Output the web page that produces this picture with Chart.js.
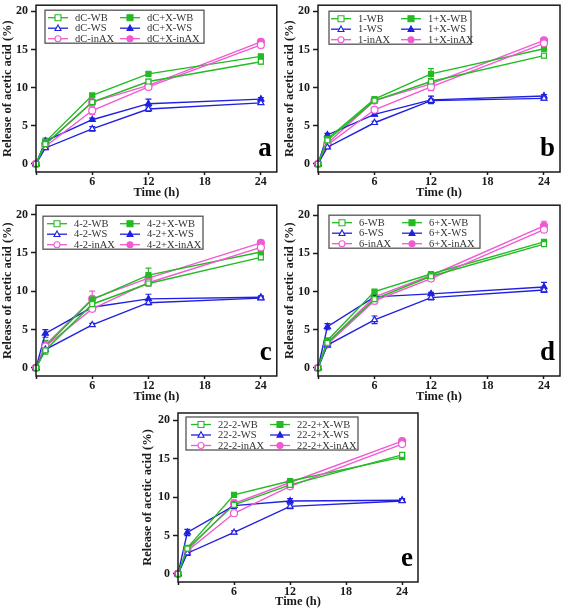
<!DOCTYPE html>
<html>
<head>
<meta charset="utf-8">
<script src="https://cdn.jsdelivr.net/npm/chart.js@4.4.1/dist/chart.umd.min.js"></script>
<style>
  body { margin: 0; background: #fff; }
  #wrap { position: relative; width: 567px; height: 611px; }
  canvas { position: absolute; }
</style>
</head>
<body>
<div id="wrap">
  <canvas id="pa" width="282" height="200" style="left:0;top:0"></canvas>
  <canvas id="pb" width="285" height="200" style="left:282px;top:0"></canvas>
  <canvas id="pc" width="282" height="204" style="left:0;top:200px"></canvas>
  <canvas id="pd" width="285" height="204" style="left:282px;top:200px"></canvas>
  <canvas id="pe" width="285" height="205" style="left:140px;top:404px"></canvas>
</div>
<script>
// ---- data ----
const times = [0, 1, 6, 12, 24];
const xTicks = [0, 6, 12, 18, 24];
const yTicks = [0, 5, 10, 15, 20];
const suffixes = ['-WB', '-WS', '-inAX', '+X-WB', '+X-WS', '+X-inAX'];

// panel a (dC)
const aWB    = [0, 2.6, 8.1, 10.8, 13.4];
const aWS    = [0, 2.1, 4.6, 7.2, 8.0];
const aInAX  = [0, 2.3, 7.0, 10.1, 15.6];
const aXWB   = [0, 2.9, 9.0, 11.8, 14.1];
const aXWS   = [0, 3.0, 5.8, 7.9, 8.5];
const aXInAX = [0, 2.6, 8.1, 10.3, 16.0];
const aErr = [[0, 0.5, 0.3, 0.3, 0.3], [0, 0.2, 0.3, 0.3, 0.2], [0, 0.3, 0.5, 0.3, 0.4],
              [0, 0.5, 0.2, 0.2, 0.2], [0, 0.2, 0.2, 0.6, 0.2], [0, 0.3, 0.3, 0.2, 0.2]];

// panel b (1)
const bWB    = [0, 3.1, 8.3, 10.8, 14.2];
const bWS    = [0, 2.2, 5.4, 8.3, 8.6];
const bInAX  = [0, 2.5, 7.1, 10.1, 15.8];
const bXWB   = [0, 3.3, 8.5, 11.8, 15.1];
const bXWS   = [0, 3.8, 6.5, 8.4, 8.9];
const bXInAX = [0, 2.7, 8.3, 10.5, 16.2];
const bErr = [[0, 0.3, 0.2, 0.4, 0.2], [0, 0.2, 0.2, 0.2, 0.2], [0, 0.3, 0.3, 0.5, 0.3],
              [0, 0.3, 0.2, 0.7, 0.3], [0, 0.2, 0.2, 0.5, 0.2], [0, 0.3, 0.2, 0.3, 0.2]];

// panel c (4-2)
const cWB    = [0, 2.3, 8.3, 11.0, 14.4];
const cWS    = [0, 2.4, 5.6, 8.5, 9.1];
const cInAX  = [0, 2.8, 7.7, 11.1, 15.7];
const cXWB   = [0, 2.8, 8.9, 12.1, 15.1];
const cXWS   = [0, 4.5, 7.9, 9.0, 9.2];
const cXInAX = [0, 3.0, 9.0, 11.7, 16.3];
const cErr = [[0, 0.5, 0.3, 0.3, 0.3], [0, 0.3, 0.2, 0.3, 0.2], [0, 0.4, 0.3, 0.3, 0.3],
              [0, 0.8, 0.3, 0.9, 0.3], [0, 0.5, 0.3, 0.6, 0.2], [0, 0.4, 1.0, 0.4, 0.3]];

// panel d (6)
const dWB    = [0, 3.3, 9.0, 12.0, 16.2];
const dWS    = [0, 3.0, 6.3, 9.2, 10.2];
const dInAX  = [0, 3.1, 8.8, 11.7, 18.1];
const dXWB   = [0, 3.6, 10.0, 12.3, 16.5];
const dXWS   = [0, 5.4, 9.3, 9.7, 10.6];
const dXInAX = [0, 3.3, 9.3, 12.1, 18.6];
const dErr = [[0, 0.3, 0.3, 0.3, 0.3], [0, 0.3, 0.5, 0.3, 0.3], [0, 0.3, 0.4, 0.3, 0.3],
              [0, 0.3, 0.2, 0.2, 0.3], [0, 0.4, 0.2, 0.2, 0.6], [0, 0.3, 0.3, 0.3, 0.6]];

// panel e (22-2)
const eWB    = [0, 3.3, 9.0, 11.6, 15.5];
const eWS    = [0, 2.7, 5.4, 8.8, 9.5];
const eInAX  = [0, 3.0, 7.9, 11.4, 16.9];
const eXWB   = [0, 3.4, 10.3, 12.1, 15.2];
const eXWS   = [0, 5.4, 8.9, 9.5, 9.6];
const eXInAX = [0, 3.1, 9.2, 11.9, 17.3];
const eErr = [[0, 0.3, 0.4, 0.3, 0.3], [0, 0.3, 0.2, 0.3, 0.2], [0, 0.3, 0.3, 0.3, 0.3],
              [0, 0.3, 0.3, 0.3, 0.2], [0, 0.4, 0.4, 0.3, 0.2], [0, 0.3, 0.4, 0.5, 0.3]];

// ---- styles ----
const GREEN = '#22bb22';
const BLUE = '#2020e0';
const PINK = '#f05ad2';
const INK = '#1a1a1a';
const SERIF = "'Liberation Serif', 'Times New Roman', serif";
const styles = [
  { color: GREEN, shape: 'rect', open: true },
  { color: BLUE, shape: 'triangle', open: true },
  { color: PINK, shape: 'circle', open: true },
  { color: GREEN, shape: 'rect', open: false },
  { color: BLUE, shape: 'triangle', open: false },
  { color: PINK, shape: 'circle', open: false }
];

function marker(ctx, shape, x, y, r) {
  ctx.beginPath();
  if (shape === 'rect') ctx.rect(x - r, y - r, 2 * r, 2 * r);
  else if (shape === 'triangle') {
    ctx.moveTo(x, y - r * 1.1);
    ctx.lineTo(x + r, y + r * 0.75);
    ctx.lineTo(x - r, y + r * 0.75);
    ctx.closePath();
  } else ctx.arc(x, y, r, 0, Math.PI * 2);
  ctx.fill();
  ctx.stroke();
}

const panelPlugin = {
  id: 'panel',
  beforeDatasetsDraw(chart) {
    // error bars
    const { ctx, scales: { x, y } } = chart;
    chart.data.datasets.forEach(ds => {
      ctx.save();
      ctx.strokeStyle = ds.borderColor;
      ctx.lineWidth = 1.2;
      ds.data.forEach((pt, j) => {
        const e = ds.errors[j];
        if (!e) return;
        const px = x.getPixelForValue(pt.x);
        const t = y.getPixelForValue(pt.y + e);
        const b = y.getPixelForValue(pt.y - e);
        ctx.beginPath();
        ctx.moveTo(px, t); ctx.lineTo(px, b);
        ctx.moveTo(px - 3, t); ctx.lineTo(px + 3, t);
        ctx.moveTo(px - 3, b); ctx.lineTo(px + 3, b);
        ctx.stroke();
      });
      ctx.restore();
    });
  },
  afterDraw(chart, args, o) {
    const { ctx, chartArea: a } = chart;
    ctx.save();
    // frame
    ctx.strokeStyle = INK;
    ctx.lineWidth = 1.5;
    ctx.strokeRect(a.left, a.top, a.right - a.left, a.bottom - a.top);

    // legend box
    const lx = a.left + o.lx, ly = a.top + o.ly;
    ctx.strokeStyle = '#555';
    ctx.lineWidth = 1.3;
    ctx.strokeRect(lx, ly, o.lw, 33);
    ctx.font = '10.5px ' + SERIF;
    ctx.textBaseline = 'middle';
    ctx.textAlign = 'left';
    chart.data.datasets.forEach((ds, i) => {
      const s = styles[i];
      const tx = lx + (i < 3 ? o.c1 : o.c2);
      const ry = ly + 7.5 + (i % 3) * 10.5;
      ctx.strokeStyle = s.color;
      ctx.lineWidth = 1.3;
      ctx.beginPath();
      ctx.moveTo(tx - 27, ry); ctx.lineTo(tx - 7, ry);
      ctx.stroke();
      ctx.fillStyle = s.open ? '#fff' : s.color;
      ctx.lineWidth = 1.1;
      marker(ctx, s.shape, tx - 17, ry, 3);
      ctx.fillStyle = '#333';
      ctx.fillText(ds.label, tx, ry + 0.5);
    });

    // panel letter
    ctx.fillStyle = '#000';
    ctx.font = 'bold 27px ' + SERIF;
    ctx.textAlign = 'right';
    ctx.textBaseline = 'alphabetic';
    ctx.fillText(o.letter, a.right - 5, a.bottom - 16);
    ctx.restore();
  }
};

const panels = [
  { id: 'pa', prefix: 'dC', letter: 'a', values: [aWB, aWS, aInAX, aXWB, aXWS, aXInAX], errors: aErr,
    yMax: 20.8, yW: 36, padTop: 3, padRight: 4, xH: 28, lx: 9, ly: 5, lw: 159, c1: 30, c2: 102 },
  { id: 'pb', prefix: '1', letter: 'b', values: [bWB, bWS, bInAX, bXWB, bXWS, bXInAX], errors: bErr,
    yMax: 20.8, yW: 36, padTop: 3, padRight: 7, xH: 28, lx: 11, ly: 6, lw: 142, c1: 29, c2: 99 },
  { id: 'pc', prefix: '4-2', letter: 'c', values: [cWB, cWS, cInAX, cXWB, cXWS, cXInAX], errors: cErr,
    yMax: 21.2, yW: 36, padTop: 4, padRight: 4, xH: 28, lx: 7, ly: 11, lw: 160, c1: 31, c2: 104 },
  { id: 'pd', prefix: '6', letter: 'd', values: [dWB, dWS, dInAX, dXWB, dXWS, dXInAX], errors: dErr,
    yMax: 21.3, yW: 36, padTop: 4, padRight: 7, xH: 28, lx: 11, ly: 10, lw: 151, c1: 30, c2: 100 },
  { id: 'pe', prefix: '22-2', letter: 'e', values: [eWB, eWS, eInAX, eXWB, eXWS, eXInAX], errors: eErr,
    yMax: 20.95, yW: 38, padTop: 9, padRight: 7, xH: 27, lx: 8, ly: 4, lw: 172, c1: 32, c2: 111 }
];

const tickFont = { family: SERIF, weight: 'bold', size: 12 };
const titleFont = { family: SERIF, weight: 'bold', size: 12.5 };

panels.forEach(p => {
  const datasets = suffixes.map((suf, i) => ({
    label: p.prefix + suf,
    data: p.values[i].map((v, j) => ({ x: times[j], y: v })),
    errors: p.errors[i],
    borderColor: styles[i].color,
    backgroundColor: styles[i].open ? '#fff' : styles[i].color,
    pointStyle: styles[i].shape,
    pointRadius: 3.5,
    pointBorderWidth: 1.2,
    borderWidth: 1.4,
    tension: 0,
    clip: false
  }));

  new Chart(document.getElementById(p.id), {
    type: 'line',
    data: { datasets },
    options: {
      responsive: false,
      animation: false,
      events: [],
      layout: { padding: { top: p.padTop, right: p.padRight, left: 0, bottom: 0 } },
      plugins: {
        legend: { display: false },
        tooltip: { enabled: false },
        panel: { letter: p.letter, lx: p.lx, ly: p.ly, lw: p.lw, c1: p.c1, c2: p.c2 }
      },
      scales: {
        x: {
          type: 'linear', min: 0, max: 25.7,
          afterBuildTicks: s => { s.ticks = xTicks.map(v => ({ value: v })); },
          afterFit: s => { s.height = p.xH; s.paddingLeft = 0; s.paddingRight = 0; },
          ticks: { callback: v => v === 0 ? '' : v, font: tickFont, color: INK, padding: 0, maxRotation: 0, autoSkip: false },
          grid: { drawOnChartArea: false, tickLength: 3, tickColor: INK, tickWidth: 1.5 },
          border: { display: false },
          title: { display: true, text: 'Time (h)', font: titleFont, color: INK, padding: { top: 0, bottom: 0 } }
        },
        y: {
          type: 'linear', min: -1.05, max: p.yMax,
          afterBuildTicks: s => { s.ticks = yTicks.map(v => ({ value: v })); },
          afterFit: s => { s.width = p.yW; s.paddingTop = 0; s.paddingBottom = 0; },
          ticks: { font: tickFont, color: INK, padding: 3 },
          grid: { drawOnChartArea: false, tickLength: 5, tickColor: INK, tickWidth: 1.5 },
          border: { display: false },
          title: { display: true, text: 'Release of acetic acid (%)', font: titleFont, color: INK, padding: 0 }
        }
      }
    },
    plugins: [panelPlugin]
  });
});
</script>
</body>
</html>
